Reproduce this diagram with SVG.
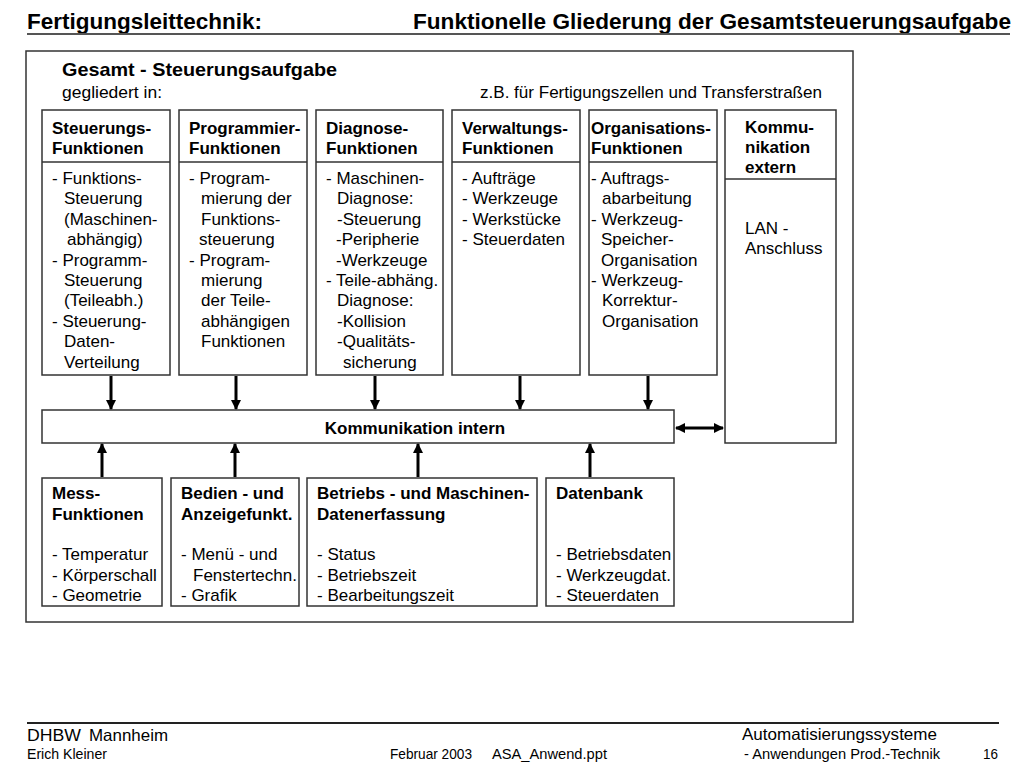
<svg xmlns="http://www.w3.org/2000/svg" width="1024" height="768" viewBox="0 0 1024 768">
<defs>
<marker id="ah" viewBox="0 0 10 10" refX="9" refY="5" markerWidth="3.4" markerHeight="3.4" orient="auto-start-reverse" markerUnits="strokeWidth">
<path d="M0,0 L10,5 L0,10 z" fill="#000"/>
</marker>
<style>
text{font-family:"Liberation Sans",Arial,sans-serif;fill:#000}
.t{font-size:17px}
.b{font-size:17px;font-weight:bold}
.bt{font-size:17px}
.bb{font-size:17px;font-weight:bold}
.box{fill:#fff;stroke:#333;stroke-width:1.5}
.div{stroke:#333;stroke-width:1.5}
.arr{stroke:#000;stroke-width:3;fill:none;marker-end:url(#ah)}
</style>
</defs>
<rect width="1024" height="768" fill="#fff"/>
<!-- header -->
<text x="27" y="29" font-size="22.6" font-weight="bold" textLength="235" lengthAdjust="spacingAndGlyphs">Fertigungsleittechnik:</text>
<text x="413" y="29" font-size="22.6" font-weight="bold" textLength="598" lengthAdjust="spacingAndGlyphs">Funktionelle Gliederung der Gesamtsteuerungsaufgabe</text>
<line x1="27" y1="34" x2="1010" y2="34" stroke="#555" stroke-width="2"/>
<!-- outer frame -->
<rect x="26" y="51" width="827" height="571" fill="none" stroke="#333" stroke-width="1.5"/>
<text x="62" y="76" font-size="19" font-weight="bold" textLength="275" lengthAdjust="spacingAndGlyphs">Gesamt - Steuerungsaufgabe</text>
<text x="62" y="98" font-size="17" textLength="100" lengthAdjust="spacingAndGlyphs">gegliedert in:</text>
<text x="480" y="98" font-size="17" textLength="342" lengthAdjust="spacingAndGlyphs">z.B. für Fertigungszellen und Transferstraßen</text>

<g id="steuerung">
<rect class="box" x="42" y="110" width="128" height="265"/>
<line class="div" x1="42" y1="162" x2="170" y2="162"/>
<text class="b" x="52" y="134">Steuerungs-</text>
<text class="b" x="52" y="154">Funktionen</text>
<text class="t" x="52" y="184">- Funktions-</text>
<text class="t" x="64" y="204">Steuerung</text>
<text class="t" x="64" y="225">(Maschinen-</text>
<text class="t" x="67" y="245">abhängig)</text>
<text class="t" x="52" y="266">- Programm-</text>
<text class="t" x="64" y="286">Steuerung</text>
<text class="t" x="64" y="306">(Teileabh.)</text>
<text class="t" x="52" y="327">- Steuerung-</text>
<text class="t" x="64" y="347">Daten-</text>
<text class="t" x="64" y="368">Verteilung</text>
</g>

<g id="programmier">
<rect class="box" x="179" y="110" width="128" height="265"/>
<line class="div" x1="179" y1="162" x2="307" y2="162"/>
<text class="b" x="189" y="134">Programmier-</text>
<text class="b" x="189" y="154">Funktionen</text>
<text class="t" x="189" y="184">- Program-</text>
<text class="t" x="201" y="204">mierung der</text>
<text class="t" x="201" y="225">Funktions-</text>
<text class="t" x="199" y="245">steuerung</text>
<text class="t" x="189" y="266">- Program-</text>
<text class="t" x="201" y="286">mierung</text>
<text class="t" x="201" y="306">der Teile-</text>
<text class="t" x="201" y="327">abhängigen</text>
<text class="t" x="201" y="347">Funktionen</text>
</g>

<g id="diagnose">
<rect class="box" x="316" y="110" width="127" height="265"/>
<line class="div" x1="316" y1="162" x2="443" y2="162"/>
<text class="b" x="326" y="134">Diagnose-</text>
<text class="b" x="326" y="154">Funktionen</text>
<text class="t" x="326" y="184">- Maschinen-</text>
<text class="t" x="337" y="204">Diagnose:</text>
<text class="t" x="337" y="225">-Steuerung</text>
<text class="t" x="336" y="245">-Peripherie</text>
<text class="t" x="336" y="266">-Werkzeuge</text>
<text class="t" x="326" y="286">- Teile-abhäng.</text>
<text class="t" x="337" y="306">Diagnose:</text>
<text class="t" x="337" y="327">-Kollision</text>
<text class="t" x="337" y="347">-Qualitäts-</text>
<text class="t" x="343" y="368">sicherung</text>
</g>

<g id="verwaltung">
<rect class="box" x="452" y="110" width="128" height="265"/>
<line class="div" x1="452" y1="162" x2="580" y2="162"/>
<text class="b" x="462" y="134">Verwaltungs-</text>
<text class="b" x="462" y="154">Funktionen</text>
<text class="t" x="462" y="184">- Aufträge</text>
<text class="t" x="462" y="204">- Werkzeuge</text>
<text class="t" x="462" y="225">- Werkstücke</text>
<text class="t" x="462" y="245">- Steuerdaten</text>
</g>

<g id="organisation">
<rect class="box" x="589" y="110" width="128" height="265"/>
<line class="div" x1="589" y1="162" x2="717" y2="162"/>
<text class="b" x="591" y="134">Organisations-</text>
<text class="b" x="591" y="154">Funktionen</text>
<text class="t" x="591" y="184">- Auftrags-</text>
<text class="t" x="602" y="204">abarbeitung</text>
<text class="t" x="591" y="225">- Werkzeug-</text>
<text class="t" x="601" y="245">Speicher-</text>
<text class="t" x="601" y="266">Organisation</text>
<text class="t" x="591" y="286">- Werkzeug-</text>
<text class="t" x="602" y="306">Korrektur-</text>
<text class="t" x="602" y="327">Organisation</text>
</g>

<g id="kommu-extern">
<rect class="box" x="725" y="110" width="111" height="333"/>
<line class="div" x1="725" y1="179" x2="836" y2="179"/>
<text class="b" x="745" y="133">Kommu-</text>
<text class="b" x="745" y="153">nikation</text>
<text class="b" x="745" y="173">extern</text>
<text class="t" x="745" y="234">LAN -</text>
<text class="t" x="745" y="254">Anschluss</text>
</g>

<g id="kommu-intern">
<rect class="box" x="42" y="410" width="632" height="33"/>
<text class="b" x="415" y="434" text-anchor="middle">Kommunikation intern</text>
</g>

<g id="mess">
<rect class="box" x="42" y="478" width="120" height="128"/>
<text class="bb" x="52" y="499">Mess-</text>
<text class="bb" x="52" y="520">Funktionen</text>
<text class="bt" x="52" y="560">- Temperatur</text>
<text class="bt" x="52" y="581">- Körperschall</text>
<text class="bt" x="52" y="601">- Geometrie</text>
</g>

<g id="bedien">
<rect class="box" x="171" y="478" width="128" height="128"/>
<text class="bb" x="181" y="499">Bedien - und</text>
<text class="bb" x="181" y="520">Anzeigefunkt.</text>
<text class="bt" x="181" y="560">- Menü - und</text>
<text class="bt" x="193" y="581">Fenstertechn.</text>
<text class="bt" x="181" y="601">- Grafik</text>
</g>

<g id="betriebs">
<rect class="box" x="307" y="478" width="230" height="128"/>
<text class="bb" x="317" y="499">Betriebs - und Maschinen-</text>
<text class="bb" x="317" y="520">Datenerfassung</text>
<text class="bt" x="317" y="560">- Status</text>
<text class="bt" x="317" y="581">- Betriebszeit</text>
<text class="bt" x="317" y="601">- Bearbeitungszeit</text>
</g>

<g id="datenbank">
<rect class="box" x="546" y="478" width="128" height="128"/>
<text class="bb" x="556" y="499">Datenbank</text>
<text class="bt" x="556" y="560">- Betriebsdaten</text>
<text class="bt" x="556" y="581">- Werkzeugdat.</text>
<text class="bt" x="556" y="601">- Steuerdaten</text>
</g>

<g id="connectors">
<line class="arr" x1="111" y1="376" x2="111" y2="409"/>
<line class="arr" x1="236" y1="376" x2="236" y2="409"/>
<line class="arr" x1="375" y1="376" x2="375" y2="409"/>
<line class="arr" x1="520" y1="376" x2="520" y2="409"/>
<line class="arr" x1="648" y1="376" x2="648" y2="409"/>
<line class="arr" x1="102" y1="477" x2="102" y2="444"/>
<line class="arr" x1="235" y1="477" x2="235" y2="444"/>
<line class="arr" x1="418" y1="477" x2="418" y2="444"/>
<line class="arr" x1="590" y1="477" x2="590" y2="444"/>
<line class="arr" x1="676" y1="428" x2="723" y2="428" style="marker-start:url(#ah)"/>
</g>

<!-- footer -->
<line x1="27" y1="723" x2="999" y2="723" stroke="#222" stroke-width="2"/>
<text x="27" y="741" font-size="16.5" textLength="54" lengthAdjust="spacingAndGlyphs">DHBW</text>
<text x="89" y="741" font-size="16.5" textLength="79" lengthAdjust="spacingAndGlyphs">Mannheim</text>
<text x="742" y="740" font-size="16.5" textLength="195" lengthAdjust="spacingAndGlyphs">Automatisierungssysteme</text>
<text x="27" y="759" font-size="14.5" textLength="80" lengthAdjust="spacingAndGlyphs">Erich Kleiner</text>
<text x="390" y="759" font-size="14.5" textLength="82" lengthAdjust="spacingAndGlyphs">Februar 2003</text>
<text x="492" y="759" font-size="14.5" textLength="115" lengthAdjust="spacingAndGlyphs">ASA_Anwend.ppt</text>
<text x="744" y="759" font-size="14.5" textLength="196" lengthAdjust="spacingAndGlyphs">- Anwendungen Prod.-Technik</text>
<text x="983" y="759" font-size="14.5" textLength="15" lengthAdjust="spacingAndGlyphs">16</text>
</svg>
